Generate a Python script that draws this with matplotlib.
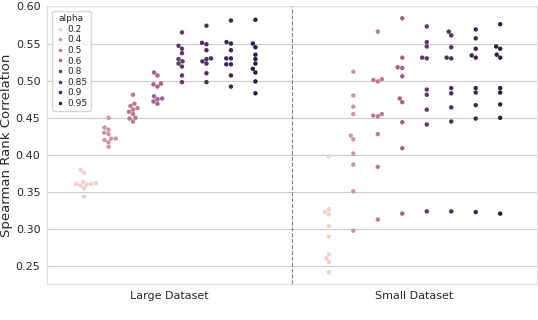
import matplotlib
matplotlib.use("Agg")
import matplotlib.pyplot as plt
import seaborn as sns
import pandas as pd

datasets = ["Large Dataset", "Small Dataset"]
alphas = [0.2, 0.4, 0.5, 0.6, 0.8, 0.85, 0.9, 0.95]

# spearman correlations per alpha (10 runs each)
large = {
    0.2: [0.380, 0.376, 0.364, 0.362, 0.361, 0.361, 0.360, 0.359, 0.355, 0.344],
    0.4: [0.450, 0.437, 0.434, 0.430, 0.428, 0.422, 0.422, 0.420, 0.417, 0.411],
    0.5: [0.481, 0.469, 0.466, 0.463, 0.461, 0.458, 0.455, 0.450, 0.449, 0.445],
    0.6: [0.511, 0.507, 0.496, 0.495, 0.492, 0.479, 0.476, 0.475, 0.472, 0.469],
    0.8: [0.565, 0.547, 0.543, 0.537, 0.529, 0.526, 0.523, 0.519, 0.507, 0.498],
    0.85: [0.574, 0.551, 0.549, 0.541, 0.530, 0.529, 0.526, 0.523, 0.510, 0.498],
    0.9: [0.581, 0.552, 0.550, 0.541, 0.530, 0.530, 0.522, 0.522, 0.507, 0.492],
    0.95: [0.582, 0.550, 0.545, 0.535, 0.529, 0.523, 0.516, 0.511, 0.499, 0.483],
}
small = {
    0.2: [0.398, 0.327, 0.323, 0.320, 0.304, 0.290, 0.266, 0.261, 0.256, 0.242],
    0.4: [0.512, 0.480, 0.465, 0.455, 0.426, 0.421, 0.402, 0.387, 0.351, 0.298],
    0.5: [0.566, 0.502, 0.501, 0.499, 0.455, 0.453, 0.452, 0.428, 0.384, 0.313],
    0.6: [0.584, 0.531, 0.518, 0.517, 0.506, 0.476, 0.471, 0.444, 0.409, 0.321],
    0.8: [0.573, 0.552, 0.546, 0.531, 0.530, 0.488, 0.481, 0.461, 0.441, 0.324],
    0.85: [0.566, 0.561, 0.545, 0.531, 0.530, 0.490, 0.483, 0.464, 0.445, 0.324],
    0.9: [0.569, 0.557, 0.543, 0.534, 0.531, 0.490, 0.484, 0.467, 0.449, 0.323],
    0.95: [0.576, 0.546, 0.543, 0.535, 0.531, 0.490, 0.484, 0.468, 0.450, 0.321],
}

rows = []
for name, d in zip(datasets, [large, small]):
    for a in alphas:
        for v in d[a]:
            rows.append({"dataset": name, "alpha": a, "corr": v})
df = pd.DataFrame(rows)

sns.set_style("whitegrid")
fig, ax = plt.subplots(figsize=(5.38, 3.2), dpi=100)
sns.swarmplot(data=df, x="dataset", y="corr", hue="alpha", dodge=True,
              size=3.2, legend="full", ax=ax)

ax.axvline(0.5, color="gray", ls="--", lw=0.8)
ax.set_xlim(-0.5, 1.5)
ax.set_ylim(0.226, 0.60)
ax.set_xlabel("")
ax.set_ylabel("Spearman Rank Correlation", fontsize=9.5)
ax.yaxis.set_label_coords(-0.070, 0.5)
ax.tick_params(axis="both", labelsize=8, pad=1.5)
ax.xaxis.grid(False)
for s in ax.spines.values():
    s.set_edgecolor("#dddddd")

leg = ax.legend(title="alpha", loc="upper left", fontsize=6.5, title_fontsize=6.5,
                markerscale=0.8, labelspacing=0.18, handletextpad=0.2,
                handlelength=1.2, borderpad=0.35, frameon=True,
                bbox_to_anchor=(0.0, 1.0))

plt.subplots_adjust(left=0.088, right=0.998, top=0.98, bottom=0.112)
fig.savefig("out.png")
